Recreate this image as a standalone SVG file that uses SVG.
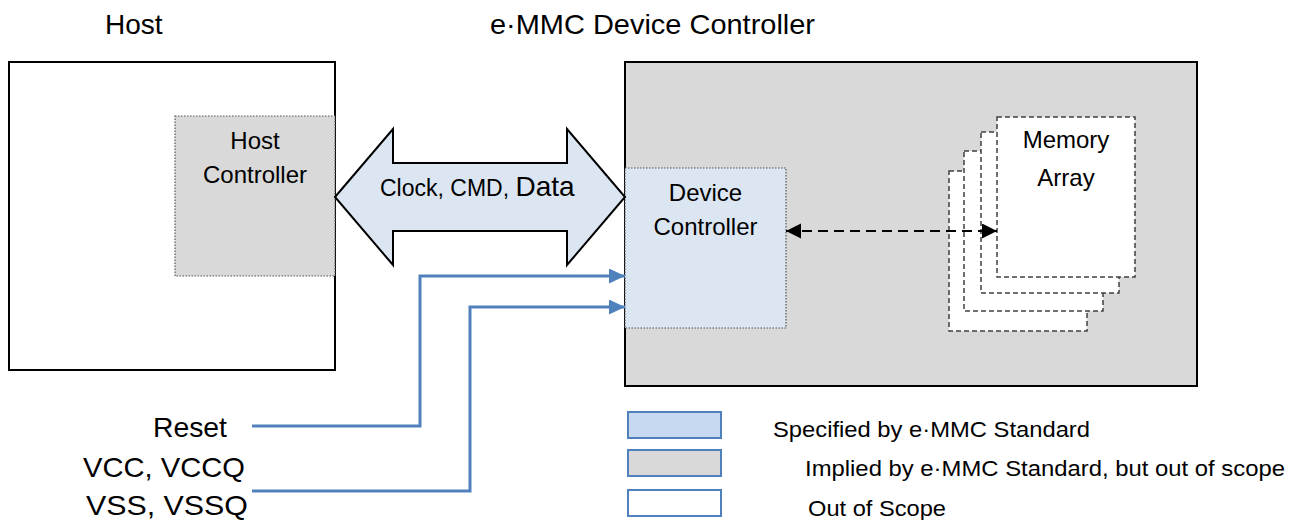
<svg xmlns="http://www.w3.org/2000/svg" width="1298" height="520" viewBox="0 0 1298 520">
<defs>
<style>
text{font-family:"Liberation Sans",Arial,sans-serif;fill:#000}
.t28{font-size:28px}
.t24{font-size:24px}
.box{stroke:#000;stroke-width:2}
.dot{stroke:#555;stroke-width:1.2;stroke-dasharray:1.5,1.5}
.page{fill:#fff;stroke:#404040;stroke-width:1.5;stroke-dasharray:5,3}
.blue{fill:none;stroke:#4f81bd;stroke-width:3}
.leg{stroke:#4f81bd;stroke-width:2}
</style>
<marker id="bh" markerUnits="userSpaceOnUse" markerWidth="16" markerHeight="16" refX="16" refY="7.5" orient="auto">
<path d="M0,0 L16,7.5 L0,15 Z" fill="#4f81bd"/>
</marker>
<marker id="kh" markerUnits="userSpaceOnUse" markerWidth="15" markerHeight="16" refX="15" refY="7.5" orient="auto-start-reverse">
<path d="M0,0 L15,7.5 L0,15 Z" fill="#000"/>
</marker>
</defs>
<rect width="1298" height="520" fill="#fff"/>

<text class="t28" x="105" y="34">Host</text>
<text class="t28" x="490" y="34" textLength="325" lengthAdjust="spacingAndGlyphs">e·MMC Device Controller</text>

<g id="host">
<rect class="box" x="9" y="62" width="326" height="308" fill="#fff"/>
</g>
<g id="host-controller">
<rect class="dot" x="175" y="116" width="160" height="160" fill="#d9d9d9"/>
<text class="t24" x="255" y="149" text-anchor="middle">Host</text>
<text class="t24" x="255" y="183" text-anchor="middle">Controller</text>
</g>

<g id="emmc-device">
<rect class="box" x="625" y="62" width="572" height="324" fill="#d9d9d9"/>
</g>

<g id="memory-array">
<rect class="page" x="949" y="171" width="138" height="160"/>
<rect class="page" x="964" y="151" width="139" height="160"/>
<rect class="page" x="981" y="132" width="138" height="161"/>
<rect class="page" x="997" y="117" width="138" height="160"/>
<text class="t24" x="1066" y="148" text-anchor="middle">Memory</text>
<text class="t24" x="1066" y="186" text-anchor="middle">Array</text>
</g>

<g id="device-controller">
<rect class="dot" x="625" y="168" width="161" height="160" fill="#dce6f2"/>
<text class="t24" x="705.5" y="201" text-anchor="middle">Device</text>
<text class="t24" x="705.5" y="235" text-anchor="middle">Controller</text>
</g>

<g id="bus">
<path d="M335,197 L393,129 L393,163 L567,163 L567,129 L625,197 L567,265 L567,231 L393,231 L393,265 Z" fill="#dce6f2" stroke="#000" stroke-width="2" stroke-linejoin="miter"/>
<text x="380" y="196"><tspan style="font-size:23px">Clock, CMD, </tspan><tspan style="font-size:28px">Data</tspan></text>
</g>

<g id="connectors">
<path class="blue" d="M252,426 L420,426 L420,276 L625,276" marker-end="url(#bh)"/>
<path class="blue" d="M252,491 L470,491 L470,307 L625,307" marker-end="url(#bh)"/>
<path d="M786,231 L997,231" fill="none" stroke="#000" stroke-width="2" stroke-dasharray="10,6" marker-start="url(#kh)" marker-end="url(#kh)"/>
</g>

<g id="signals">
<text class="t28" x="153" y="437" textLength="74" lengthAdjust="spacingAndGlyphs">Reset</text>
<text class="t28" x="83" y="477" textLength="162" lengthAdjust="spacingAndGlyphs">VCC, VCCQ</text>
<text class="t28" x="86" y="515" textLength="162" lengthAdjust="spacingAndGlyphs">VSS, VSSQ</text>
</g>

<g id="legend">
<rect class="leg" x="628" y="412" width="93" height="26" fill="#c6d9f1"/>
<rect class="leg" x="628" y="450" width="93" height="26" fill="#d9d9d9"/>
<rect class="leg" x="628" y="490" width="93" height="26" fill="#fff"/>
<text class="t24" x="773" y="437" style="font-size:22px" textLength="317" lengthAdjust="spacingAndGlyphs">Specified by e·MMC Standard</text>
<text class="t24" x="805" y="476" style="font-size:22px" textLength="480" lengthAdjust="spacingAndGlyphs">Implied by e·MMC Standard, but out of scope</text>
<text class="t24" x="808" y="516" style="font-size:22px" textLength="138" lengthAdjust="spacingAndGlyphs">Out of Scope</text>
</g>
</svg>
